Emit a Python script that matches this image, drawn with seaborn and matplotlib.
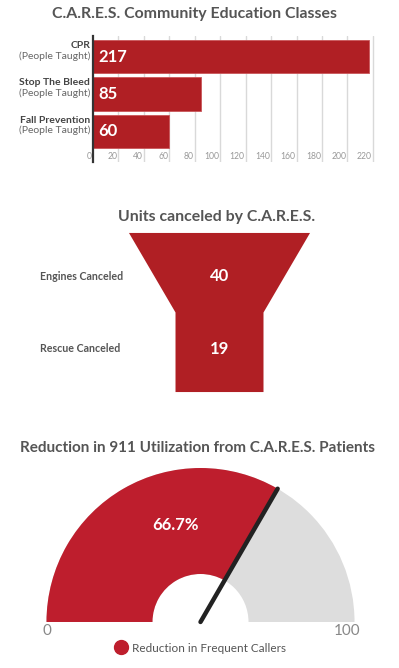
import numpy as np
import pandas as pd
import matplotlib
matplotlib.use("Agg")
import matplotlib.pyplot as plt
import seaborn as sns
from matplotlib.patches import Wedge, Polygon
from matplotlib.lines import Line2D

# data
classes = ["CPR", "Stop The Bleed", "Fall Prevention"]
taught = [217, 85, 60]
class_ticks = list(range(0, 221, 20))

stages = ["Engines Canceled", "Rescue Canceled"]
canceled = [40, 19]

gauge_label = "Reduction in Frequent Callers"
gauge_value = 66.7
gauge_min, gauge_max = 0, 100

sns.set_theme(style="white")
plt.rcParams["font.family"] = ["Lato", "DejaVu Sans"]

RED = "#b01f24"
GAUGE_RED = "#be1e2d"
GREY_TXT = "#555555"

W, H = 399, 668
fig = plt.figure(figsize=(W / 100, H / 100), dpi=100)


def px_axes(x0, y0, x1, y1):
    # axes from pixel box (top-left origin)
    return fig.add_axes([x0 / W, 1 - y1 / H, (x1 - x0) / W, (y1 - y0) / H])


# ---------- 1. Community education bars ----------
fig.text(195 / W, 1 - 14 / H, "C.A.R.E.S. Community Education Classes",
         ha="center", va="center", fontsize=11.4, fontweight="bold", color=GREY_TXT)

ax1 = px_axes(93, 36, 376, 162)
df = pd.DataFrame({"cls": classes, "taught": taught})
sns.barplot(data=df, x="taught", y="cls", color=RED, saturation=1,
            width=0.89, ax=ax1, edgecolor="#c9565a", linewidth=0.6, zorder=3)
ax1.set_xlim(0, 222.4)
ax1.set_ylim(2.82, -0.55)
ax1.set_xticks(class_ticks[1:])
ax1.set_xticklabels([])
ax1.set_yticks([])
ax1.set_xlabel("")
ax1.set_ylabel("")
ax1.grid(axis="x", color="#d9d9d9", linewidth=1, zorder=0)
ax1.tick_params(length=0)
for s in ["top", "right", "bottom"]:
    ax1.spines[s].set_visible(False)
ax1.spines["left"].set_color("#333333")
ax1.spines["left"].set_linewidth(1.6)
ax1.spines["left"].set_zorder(4)

for t in class_ticks:
    ax1.text(t - 0.8, 2.67, str(t), ha="right", va="center",
             fontsize=6.2, color="#999999")

ytr = ax1.get_yaxis_transform()
for i, (c, v) in enumerate(zip(classes, taught)):
    ax1.annotate(c, xy=(0, i), xycoords=ytr, xytext=(-2, 8), textcoords="offset points",
                 ha="right", va="center", fontsize=7.5, fontweight="bold", color="#444444")
    ax1.annotate("(People Taught)", xy=(0, i), xycoords=ytr, xytext=(-2, 0.5),
                 textcoords="offset points", ha="right", va="center",
                 fontsize=7.5, color="#666666")
    ax1.text(4, i, str(v), ha="left", va="center", fontsize=12,
             fontweight="bold", color="white", zorder=5)

# ---------- 2. Funnel ----------
fig.text(217 / W, 1 - 217 / H, "Units canceled by C.A.R.E.S.",
         ha="center", va="center", fontsize=11.4, fontweight="bold", color=GREY_TXT)

ax2 = px_axes(0, 225, W, 400)
ax2.set_xlim(-2.425, 1.983)
ax2.set_ylim(1.699, -0.699)
ax2.axis("off")

top, neck, bottom = -0.59, 0.5, 1.59
neck_w = 0.486
funnel = Polygon([(-1, top), (1, top), (neck_w, neck), (neck_w, bottom),
                  (-neck_w, bottom), (-neck_w, neck)], closed=True,
                 facecolor=RED, edgecolor="none")
ax2.add_patch(funnel)

for i, (s, v) in enumerate(zip(stages, canceled)):
    ax2.text(0, i, str(v), ha="center", va="center", fontsize=12,
             fontweight="bold", color="white")
    ax2.text(40 / W, i, s, transform=ax2.get_yaxis_transform(), ha="left",
             va="center", fontsize=7.7, fontweight="bold", color=GREY_TXT)

# ---------- 3. Gauge ----------
fig.text(197.5 / W, 1 - 448 / H, "Reduction in 911 Utilization from C.A.R.E.S. Patients",
         ha="center", va="center", fontsize=11, fontweight="bold", color=GREY_TXT)

ax3 = px_axes(40, 462, 361, 640)
ax3.set_xlim(-1.042, 1.042)
ax3.set_ylim(-0.117, 1.039)
ax3.axis("off")

inner = 48 / 154
frac = (gauge_value - gauge_min) / (gauge_max - gauge_min)
ang = 180 - frac * 180
ax3.add_patch(Wedge((0, 0), 1, 0, 180, width=1 - inner, facecolor="#dddddd", edgecolor="none"))
ax3.add_patch(Wedge((0, 0), 1, ang, 180, width=1 - inner, facecolor=GAUGE_RED, edgecolor="none"))
rad = np.deg2rad(ang)
ax3.plot([0, np.cos(rad)], [0, np.sin(rad)], color="#222222", lw=3.2,
         solid_capstyle="round")
ax3.text(-0.165, 0.63, f"{gauge_value:.1f}%", ha="center", va="center",
         fontsize=12, fontweight="bold", color="white")
ax3.text(-1.0, -0.058, str(gauge_min), ha="center", va="center", fontsize=11, color="#888888")
ax3.text(0.95, -0.058, str(gauge_max), ha="center", va="center", fontsize=11, color="#888888")

handle = Line2D([], [], marker="o", linestyle="none", markersize=10,
                markerfacecolor=GAUGE_RED, markeredgecolor=GAUGE_RED)
fig.legend([handle], [gauge_label], loc="center", bbox_to_anchor=(200 / W, 1 - 648 / H),
           frameon=False, fontsize=8.5, labelcolor=GREY_TXT, handletextpad=0.4,
           handlelength=1.2, borderpad=0)

fig.savefig("out.png", dpi=100)
